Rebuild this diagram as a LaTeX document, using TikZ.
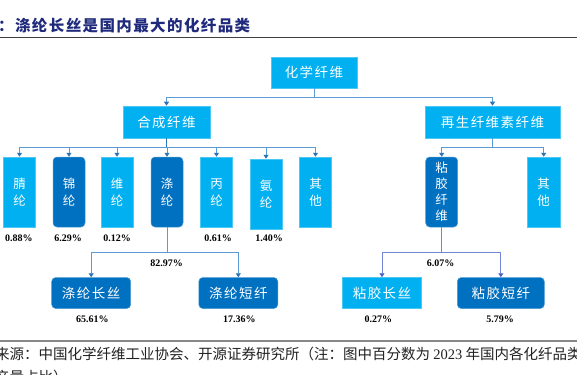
\documentclass[tikz,border=0pt]{standalone}
\usepackage{fontspec}
\usetikzlibrary{arrows.meta}
\newfontfamily\cjk{Noto Sans CJK SC}
\newfontfamily\cjkls{Noto Sans CJK SC}[LetterSpace=11]
\newfontfamily\cjktitle{Noto Sans CJK SC}[LetterSpace=9]
\newfontfamily\numfont{Liberation Serif}
\definecolor{lightb}{HTML}{00B0F0}
\definecolor{darkb}{HTML}{0070C0}
\definecolor{linel}{HTML}{5B9BD5}
\definecolor{liner}{HTML}{7486D6}
\definecolor{arrl}{HTML}{2E75B6}
\definecolor{arrr}{HTML}{4A62C4}
\definecolor{navy}{HTML}{1F2A7C}
\tikzset{
  lbox/.style={fill=lightb, draw=lightb!70!white, line width=0.5pt, text=white, inner sep=0pt},
  dbox/.style={fill=darkb, draw=darkb!70!white, line width=0.5pt, rounded corners=4pt, text=white, inner sep=0pt},
  bigtxt/.style={font=\cjkls\fontsize{13.5}{15}\selectfont},
  verttxt/.style={align=center, font=\cjk\fontsize{12.5}{17}\selectfont},
  vert4txt/.style={align=center, font=\cjk\fontsize{12.5}{16}\selectfont},
  pct/.style={font=\numfont\bfseries\fontsize{10}{12}\selectfont, text=black, inner sep=0pt},
  plainline/.style={draw=linel, line width=0.9pt},
  connl/.style={draw=linel, line width=0.9pt, -{Triangle[width=5pt,length=4pt,color=arrl]}},
  connr/.style={draw=liner, line width=0.9pt, -{Triangle[width=5pt,length=4pt,color=arrr]}},
  plainr/.style={draw=liner, line width=0.9pt},
  smallbox/.style={minimum width=32pt, minimum height=70pt},
  lowbox/.style={minimum height=31pt, bigtxt}
}
\begin{document}
\begin{tikzpicture}[x=1pt,y=-1pt]
\useasboundingbox (0,0) rectangle (577,374);
\fill[white] (0,0) rectangle (577,374);

% title
\node[anchor=west, inner sep=0pt, text=navy, font=\cjktitle\bfseries\fontsize{15.5}{17}\selectfont] (title) at (-2,26) {：涤纶长丝是国内最大的化纤品类};
\draw[draw={rgb,255:red,64;green,64;blue,64}, line width=1pt] (0,37.5) -- (577,37.5);

% top levels
\node[lbox, bigtxt, minimum width=86pt, minimum height=31pt] (root) at (314,72.5) {化学纤维};
\node[lbox, bigtxt, minimum width=87pt, minimum height=32pt] (syn) at (166.5,122) {合成纤维};
\node[lbox, bigtxt, minimum width=135pt, minimum height=32pt] (regen) at (492.5,122) {再生纤维素纤维};

% small boxes
\node[lbox, smallbox, verttxt] (b1) at (19.5,192) {腈\\纶};
\node[dbox, smallbox, verttxt] (b2) at (69,192) {锦\\纶};
\node[lbox, smallbox, verttxt] (b3) at (117,192) {维\\纶};
\node[dbox, smallbox, verttxt] (b4) at (167,192) {涤\\纶};
\node[lbox, smallbox, verttxt] (b5) at (216.5,192) {丙\\纶};
\node[lbox, smallbox, verttxt] (b6) at (266,194) {氨\\纶};
\node[lbox, smallbox, verttxt] (b7) at (315.5,192) {其\\他};
\node[dbox, smallbox, vert4txt] (vis) at (441.7,192) {粘\\胶\\纤\\维};
\node[lbox, smallbox, verttxt, minimum width=33pt] (vo) at (543.7,192) {其\\他};

% bottom boxes
\node[dbox, lowbox, minimum width=79pt] (p1) at (91.2,293) {涤纶长丝};
\node[dbox, lowbox, minimum width=79pt] (p2) at (238.3,293) {涤纶短纤};
\node[lbox, lowbox, minimum width=79pt] (v1) at (382,293) {粘胶长丝};
\node[dbox, lowbox, minimum width=87pt] (v2) at (500.8,293) {粘胶短纤};

% connectors
\coordinate (j0) at (314,97);
\draw[plainline] (root.south) -- (j0);
\draw[connl] (j0) -| (syn.north);
\draw[connl] (j0) -| (regen.north);

\coordinate (j1) at (166.5,147);
\draw[plainline, draw=arrl] (syn.south) -- (j1);
\foreach \b in {b1,b2,b3,b4,b5,b6,b7} {\draw[connl] (j1) -| (\b.north);}

\coordinate (j2) at (492.5,147);
\draw[plainline] (regen.south) -- (j2);
\draw[connl] (j2) -| (vis.north);
\draw[connl] (j2) -| (vo.north);

\coordinate (j3) at (167,252.5);
\draw[plainline] (b4.south) -- (j3);
\draw[connl] (j3) -| (p1.north);
\draw[connl] (j3) -| (p2.north);

\coordinate (j4) at (441.7,252.5);
\draw[plainr] (vis.south) -- (j4);
\draw[connr] (j4) -| (v1.north);
\draw[connr] (j4) -| (v2.north);

% percentages
\node[pct] (q1) at (19,238.5) {0.88\%};
\node[pct] (q2) at (68,238.5) {6.29\%};
\node[pct] (q3) at (117,238.5) {0.12\%};
\node[pct] (q5) at (218,238.5) {0.61\%};
\node[pct] (q6) at (269,238.5) {1.40\%};
\node[pct] (q4) at (166.7,263.5) {82.97\%};
\node[pct] (qv) at (440.7,263.5) {6.07\%};
\node[pct] (r1) at (92.3,319.5) {65.61\%};
\node[pct] (r2) at (239.3,319.5) {17.36\%};
\node[pct] (r3) at (378.3,319.5) {0.27\%};
\node[pct] (r4) at (500,319.5) {5.79\%};

% source
\draw[draw={rgb,255:red,136;green,136;blue,136}, line width=2pt] (0,341) -- (577,341);
\node[anchor=west, inner sep=0pt, text={rgb,255:red,34;green,34;blue,34}, font=\cjk\fontsize{14.5}{16}\selectfont] (src) at (-5,354) {来源：中国化学纤维工业协会、开源证券研究所（注：图中百分数为 {\numfont 2023} 年国内各化纤品类};
\node[anchor=west, inner sep=0pt, text={rgb,255:red,34;green,34;blue,34}, font=\cjk\fontsize{14.5}{16}\selectfont] (src2) at (-5,377) {产量占比）};
\end{tikzpicture}
\end{document}
